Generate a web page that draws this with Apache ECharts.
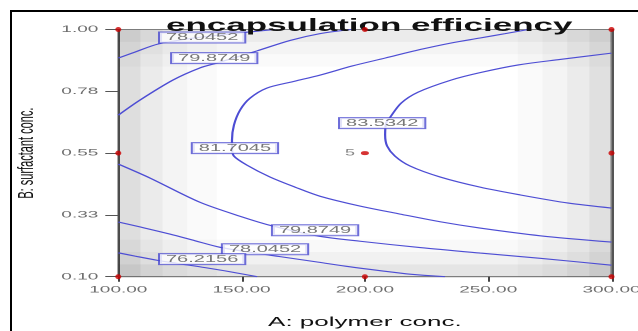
<!DOCTYPE html>
<html><head><meta charset="utf-8">
<script src="https://cdn.jsdelivr.net/npm/echarts@6/dist/echarts.min.js"></script>
<style>
html,body{margin:0;padding:0;background:#fff;overflow:hidden;width:638px;height:331px;}
#wrap{width:638px;height:331px;overflow:hidden;position:relative;}
#chart{width:319px;height:331px;transform:scaleX(2);transform-origin:0 0;}
</style></head><body><div id="wrap"><div id="chart"></div></div>
<script>
// ---- data ----
const chartTitle = 'encapsulation efficiency';
const xAxisName = 'A: polymer conc.';
const yAxisName = 'B: surfactant conc.';
const xTickValues = [100, 150, 200, 250, 300];
const xTickLabels = ['100.00', '150.00', '200.00', '250.00', '300.00'];
const yTickValues = [0.10, 0.325, 0.55, 0.775, 1.00];
const yTickLabels = ['0.10', '0.33', '0.55', '0.78', '1.00'];

// contour lines [A, B]
const c76_2156 = [[100,0.187],[106.8,0.175],[115.7,0.160],[125.0,0.147],[135.2,0.133],[145.3,0.118],[156.3,0.10]];
const c78_0452_low = [[100,0.299],[110.8,0.277],[121.0,0.255],[131.1,0.231],[141.3,0.207],[153.4,0.189],[165.6,0.173],[181.0,0.153],[194.0,0.136],[206.2,0.122],[218.3,0.109],[232.5,0.10]];
const c78_0452_high = [[100,0.896],[106.8,0.918],[116.1,0.947],[129.1,0.967],[141.3,0.980],[153.4,0.991],[163.6,1.0]];
const c79_8749_low = [[100,0.510],[112.9,0.459],[133.1,0.371],[149.4,0.320],[162.8,0.284],[181.0,0.248],[198.1,0.229],[222.4,0.206],[246.8,0.186],[271.1,0.167],[300,0.142]];
const c79_8749_high = [[100,0.688],[108.8,0.743],[122.2,0.816],[133.1,0.860],[140.0,0.878],[156.2,0.922],[169.6,0.960],[181.8,0.985],[194.4,1.0]];
const c81_7045 = [[266.2,1.0],[256.9,0.985],[246.7,0.969],[235.0,0.951],[222.4,0.927],[208.2,0.896],[194.8,0.867],[181.8,0.834],[171.7,0.812],[160.3,0.787],[153.4,0.750],[149.4,0.707],[146.9,0.652],[146.1,0.597],[146.1,0.568],[146.9,0.539],[152.2,0.506],[161.5,0.463],[171.7,0.426],[181.8,0.393],[198.1,0.357],[214.3,0.328],[230.5,0.300],[246.7,0.277],[271.1,0.249],[300,0.226]];
const c83_5342 = [[300,0.914],[279.2,0.891],[262.2,0.871],[246.7,0.843],[235.0,0.816],[221.6,0.772],[214.7,0.732],[210.3,0.681],[208.6,0.659],[208.2,0.616],[209.0,0.576],[212.2,0.539],[218.3,0.503],[230.5,0.463],[246.7,0.426],[262.2,0.399],[282.5,0.368],[300,0.350]];

// contour label texts and their anchor [A, B]
const contourLabelTexts = ['78.0452', '79.8749', '81.7045', '83.5342', '79.8749', '78.0452', '76.2156'];
const contourLabelAt = [[134.0,0.971],[138.9,0.896],[147.3,0.568],[207.0,0.659],[179.8,0.269],[159.5,0.200],[134.0,0.164]];

// design points
const designPoints = [[100,1.0],[200,1.0],[300,1.0],[100,0.55],[300,0.55],[100,0.10],[200,0.10],[300,0.10]];
const centerPoint = [200, 0.55];
const centerReplicates = '5';

// background shading bands: [from, to, darkness]
const xShadeBands = [[100,109,0.13],[109,118,0.08],[118,128,0.045],[128,140,0.02],[262,272,0.02],[272,282,0.045],[282,291,0.08],[291,300,0.12]];
const yShadeBands = [[0.955,1.0,0.08],[0.91,0.955,0.045],[0.865,0.91,0.02],[0.10,0.145,0.10],[0.145,0.19,0.055],[0.19,0.235,0.025]];

// ---- chart ----
const FONT = 'Liberation Sans, Arial, sans-serif';
const LINE = '#4d4dd4';
const chart = echarts.init(document.getElementById('chart'), null, {renderer: 'canvas', devicePixelRatio: 2});

const shadeAreas = [];
xShadeBands.forEach(b => shadeAreas.push([{xAxis: b[0], yAxis: 0.10, itemStyle: {color: 'rgba(0,0,0,' + b[2] + ')'}}, {xAxis: b[1], yAxis: 1.0}]));
yShadeBands.forEach(b => shadeAreas.push([{xAxis: 100, yAxis: b[0], itemStyle: {color: 'rgba(0,0,0,' + b[2] + ')'}}, {xAxis: 300, yAxis: b[1]}]));

const contours = [c76_2156, c78_0452_low, c78_0452_high, c79_8749_low, c79_8749_high, c81_7045, c83_5342];

const series = [{
  type: 'line', data: [], silent: true, z: 1,
  markArea: {silent: true, data: shadeAreas, label: {show: false}}
}];
contours.forEach(c => series.push({
  type: 'line', data: c, symbol: 'none', smooth: 0.3, silent: true, z: 3,
  lineStyle: {color: LINE, width: 1.1}
}));
series.push({
  type: 'scatter', z: 5, silent: true, symbolSize: 1,
  itemStyle: {color: 'transparent'},
  data: contourLabelAt.map((p, i) => ({value: p, name: contourLabelTexts[i]})),
  label: {
    show: true, position: 'inside', formatter: p => p.name,
    fontFamily: FONT, fontSize: 10, color: '#555', lineHeight: 10,
    backgroundColor: '#fff', borderColor: '#4a4ad0', borderWidth: 1, padding: [0, 3, 0, 3]
  }
});
series.push({
  type: 'scatter', z: 6, silent: true, clip: false, symbol: 'circle', symbolSize: [3, 5],
  itemStyle: {color: '#cc0000'}, data: designPoints
});
series.push({
  type: 'scatter', z: 6, silent: true, clip: false, symbol: 'circle', symbolSize: [4, 4],
  itemStyle: {color: '#cc0000'}, data: [centerPoint],
  label: {show: true, position: 'left', distance: 3, formatter: centerReplicates, fontFamily: FONT, fontSize: 9, color: '#666'}
});

chart.setOption({
  animation: false,
  backgroundColor: '#fff',
  title: {
    text: chartTitle, left: 78, top: 12,
    textStyle: {fontFamily: FONT, fontSize: 17.5, fontWeight: 'bold', color: '#111'}
  },
  graphic: [
    {type: 'line', shape: {x1: 5, y1: 11, x2: 330, y2: 11}, style: {stroke: '#000', lineWidth: 2}, z: 100},
    {type: 'line', shape: {x1: 5.5, y1: 10, x2: 5.5, y2: 340}, style: {stroke: '#000', lineWidth: 1}, z: 100}
  ],
  grid: {left: 59.15, right: 13.25, top: 29.5, bottom: 54.3, containLabel: false, outerBoundsMode: 'none',
    show: true, borderColor: '#8a8a8a', borderWidth: 1, backgroundColor: '#fff'},
  xAxis: {
    type: 'value', min: 100, max: 300, interval: 50,
    name: xAxisName, nameLocation: 'middle', nameGap: 39,
    nameTextStyle: {fontFamily: FONT, fontSize: 13, color: '#111'},
    axisLine: {show: true, onZero: false, lineStyle: {color: '#8a8a8a', width: 1}},
    axisTick: {show: true, inside: false, length: 5, lineStyle: {color: '#444'}},
    axisLabel: {fontFamily: FONT, fontSize: 9.5, color: '#6e6e6e', margin: 8,
      formatter: v => xTickLabels[xTickValues.indexOf(v)] || ''},
    splitLine: {show: false}
  },
  yAxis: [{
    type: 'value', min: 0.10, max: 1.0,
    name: yAxisName, nameLocation: 'middle', nameGap: 40,
    nameTextStyle: {fontFamily: FONT, fontSize: 11, color: '#111'},
    axisLine: {show: true, onZero: false, lineStyle: {color: '#555', width: 1}},
    axisTick: {show: true, inside: false, length: 6.5, customValues: yTickValues, lineStyle: {color: '#555'}},
    axisLabel: {fontFamily: FONT, fontSize: 9.5, color: '#6e6e6e', margin: 10, customValues: yTickValues,
      formatter: v => {
        let k = 0, best = 1e9;
        yTickValues.forEach((t, i) => { const d = Math.abs(t - v); if (d < best) { best = d; k = i; } });
        return yTickLabels[k];
      }},
    splitLine: {show: false}
  }, {
    type: 'value', min: 0.10, max: 1.0, position: 'right',
    axisLine: {show: true, onZero: false, lineStyle: {color: '#555', width: 1}},
    axisTick: {show: false}, axisLabel: {show: false}, splitLine: {show: false}
  }],
  series: series
});
</script></body></html>
